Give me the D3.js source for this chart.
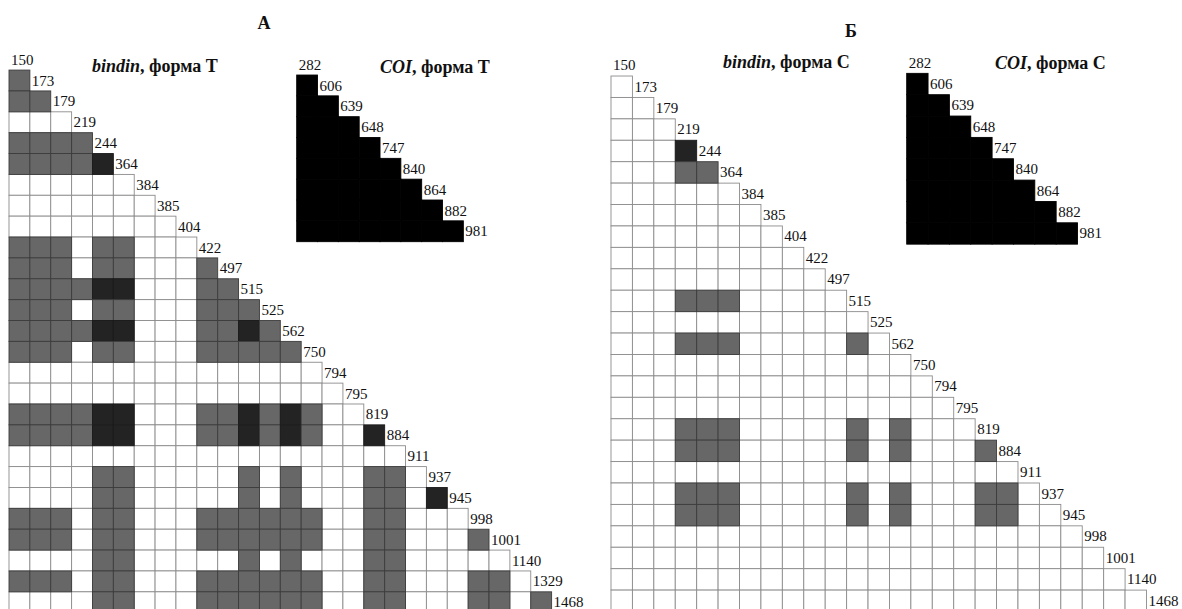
<!DOCTYPE html>
<html>
<head>
<meta charset="utf-8">
<script src="https://cdn.jsdelivr.net/npm/d3@7"></script>
<style>
  body { margin:0; background:#fff; }
  svg text { font-family:"Liberation Serif","DejaVu Serif",serif; fill:#111; }
</style>
</head>
<body>
<div id="chart"></div>
<script>
// bindin, form T: size classes and pairwise test results (0 = n.s., 1 = p<0.05, 2 = p<0.01)
const labelsT = [150,173,179,219,244,364,384,385,404,422,497,515,525,562,750,794,795,819,884,911,937,945,998,1001,1140,1329,1468];
const rowsT = [
  "1",
  "11",
  "000",
  "1111",
  "11112",
  "000000",
  "0000000",
  "00000000",
  "111011000",
  "1110110001",
  "11112200011",
  "111011000111",
  "1111220001121",
  "11101100011111",
  "000000000000000",
  "0000000000000000",
  "11112200011212100",
  "111122000112121002",
  "0000000000000000000",
  "00001100000101000110",
  "000011000001010001102",
  "1110110001111110011000",
  "11101100011111100110001",
  "000011000001010001100000",
  "1110110001111110011000110",
  "00001100011111100110001101"
];

// bindin, form C
const labelsC = [150,173,179,219,244,364,384,385,404,422,497,515,525,562,750,794,795,819,884,911,937,945,998,1001,1140,1468];
const rowsC = [
  "0",
  "00",
  "000",
  "0002",
  "00011",
  "000000",
  "0000000",
  "00000000",
  "000000000",
  "0000000000",
  "00011100000",
  "000000000000",
  "0001110000010",
  "00000000000000",
  "000000000000000",
  "0000000000000000",
  "00011100000101000",
  "000111000001010001",
  "0000000000000000000",
  "00011100000101000110",
  "000111000001010001100",
  "0000000000000000000000",
  "00000000000000000000000",
  "000000000000000000000000",
  "0000000000000000000000000"
];

// COI, both forms (3 = all pairs differ)
const labelsCOI = [282,606,639,648,747,840,864,882,981];
const rowsCOI = [
  "3",
  "33",
  "333",
  "3333",
  "33333",
  "333333",
  "3333333",
  "33333333"
];

const W = 1182, H = 609;
const svg = d3.select('#chart').append('svg')
  .attr('width', W).attr('height', H)
  .attr('viewBox', `0 0 ${W} ${H}`);
svg.append('rect').attr('width', W).attr('height', H).attr('fill', '#fff');

const fill = d3.scaleOrdinal().domain(["0","1","2","3"]).range(["#ffffff","#676767","#232323","#000000"]);
const stroke = d3.scaleOrdinal().domain(["0","1","2","3"]).range(["#8c8c8c","#3c3c3c","#1a1a1a","#000000"]);

function drawMatrix(labels, rows, x0, y0, cell){
  const n = labels.length;
  const xs = d3.scaleLinear().domain([0, n]).range([x0, x0 + n*cell]);
  const ys = d3.scaleLinear().domain([0, n]).range([y0, y0 + n*cell]);
  const g = svg.append('g');

  const cells = [];
  rows.forEach((r, ri) => {
    r.split('').forEach((v, j) => cells.push({i: ri + 1, j, v}));
  });

  // white cells first, so filled cells' darker borders sit on top
  cells.sort((a, b) => (a.v === "0" ? 0 : 1) - (b.v === "0" ? 0 : 1));

  g.selectAll('rect.cell').data(cells).enter().append('rect')
    .attr('class', 'cell')
    .attr('x', d => xs(d.j))
    .attr('y', d => ys(d.i))
    .attr('width', xs(1) - xs(0))
    .attr('height', ys(1) - ys(0))
    .attr('fill', d => fill(d.v))
    .attr('stroke', d => stroke(d.v))
    .attr('stroke-width', 0.9);

  g.selectAll('text.lab').data(labels).enter().append('text')
    .attr('class', 'lab')
    .attr('x', (d, i) => xs(i) + 2)
    .attr('y', (d, i) => ys(i) + 15.5)
    .attr('font-size', '15px')
    .text(d => d);
}

function title(x, y, gene, form){
  const t = svg.append('text').attr('x', x).attr('y', y)
    .attr('font-size', '18px').attr('font-weight', 'bold');
  t.append('tspan').attr('font-style', 'italic').text(gene);
  t.append('tspan').text(', форма ' + form);
}

// panel A
svg.append('text').attr('x', 264).attr('y', 29).attr('text-anchor', 'middle')
  .attr('font-size', '18px').attr('font-weight', 'bold').text('А');
drawMatrix(labelsT, rowsT, 9, 49.2, 20.87);
title(92, 72, 'bindin', 'Т');
drawMatrix(labelsCOI, rowsCOI, 296.7, 54.2, 20.83);
title(380, 73, 'COI', 'Т');

// panel Б
svg.append('text').attr('x', 851).attr('y', 37).attr('text-anchor', 'middle')
  .attr('font-size', '18px').attr('font-weight', 'bold').text('Б');
drawMatrix(labelsC, rowsC, 611, 54.6, 21.42);
title(723, 68, 'bindin', 'С');
drawMatrix(labelsCOI, rowsCOI, 906.7, 52, 21.35);
title(995, 69, 'COI', 'С');
</script>
</body>
</html>
